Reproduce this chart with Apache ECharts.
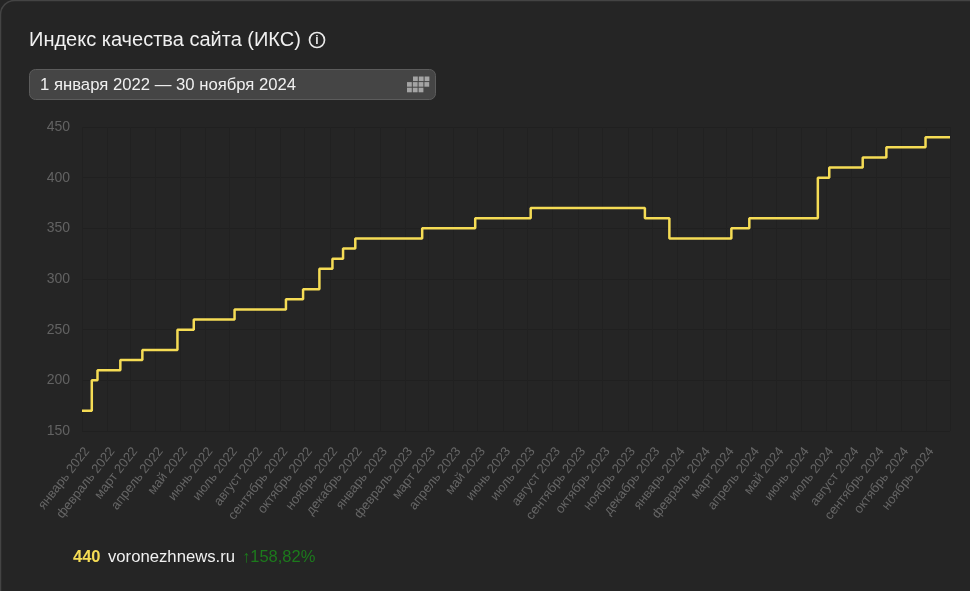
<!DOCTYPE html>
<html><head><meta charset="utf-8">
<style>html,body{margin:0;padding:0;background:#252525}#c{width:970px;height:591px}</style>
<script src="https://cdn.jsdelivr.net/npm/echarts@6/dist/echarts.min.js"></script>
</head><body><div id="c"></div>
<script>
const stepDates = ['2022-01-01','2022-01-13','2022-01-20','2022-02-17','2022-03-16','2022-04-28','2022-05-18','2022-07-07','2022-09-08','2022-09-29','2022-10-19','2022-11-04','2022-11-17','2022-12-02','2023-02-22','2023-04-28','2023-07-05','2023-11-22','2023-12-22','2024-03-07','2024-03-29','2024-06-21','2024-07-05','2024-08-15','2024-09-13','2024-10-31','2024-11-30'];
const stepValues = [170,200,210,220,230,250,260,270,280,290,310,320,330,340,350,360,370,360,340,350,360,400,410,420,430,440,440];
const monthNames = ['январь','февраль','март','апрель','май','июнь','июль','август','сентябрь','октябрь','ноябрь','декабрь'];
const yTicks = {min:150,max:450,interval:50};
const titleText = 'Индекс качества сайта (ИКС)';
const rangeText = '1 января 2022 — 30 ноября 2024';
const siteName = 'voronezhnews.ru', lastValue = '440', changeText = '↑158,82%';

const font = '"Liberation Sans", Arial, sans-serif';
const chart = echarts.init(document.getElementById('c'), null, {renderer:'canvas'});
const cells = [];
[[413,3],[407,4],[407,3]].forEach(([x0,n],r)=>{
  for (let c=0;c<n;c++) cells.push({type:'rect',shape:{x:x0+c*5.8,y:76.5+r*5.6,width:4.8,height:4.6},style:{fill:'#a4a4a4'},silent:true});
});
chart.setOption({
  backgroundColor:'#252525',
  animation:false,
  grid:{left:82,right:20,top:127,bottom:160,containLabel:false},
  xAxis:{type:'time',min:'2022-01-01',max:'2024-11-30',
    minInterval:27*864e5,maxInterval:32*864e5,
    axisLine:{show:false},axisTick:{show:false},
    splitLine:{show:true,lineStyle:{color:'#212121',width:1}},
    axisLabel:{rotate:52,color:'#666666',fontSize:13,fontFamily:font,margin:14,verticalAlign:'top',hideOverlap:false,showMinLabel:true,showMaxLabel:false,
      formatter:v=>{const d=new Date(v);return monthNames[d.getMonth()]+' '+d.getFullYear();}}},
  yAxis:{type:'value',min:yTicks.min,max:yTicks.max,interval:yTicks.interval,
    axisLine:{show:false},axisTick:{show:false},
    splitLine:{show:true,lineStyle:{color:'#202020',width:1}},
    axisLabel:{color:'#626262',fontSize:14,fontFamily:font,margin:12}},
  series:[{type:'line',step:'end',showSymbol:false,
    data:stepDates.map((d,i)=>[d,stepValues[i]]),
    lineStyle:{color:'#f5dc55',width:2.5},z:5}],
  graphic:[
    {type:'rect',shape:{x:0.5,y:0.5,width:1000,height:700,r:14},style:{fill:'none',stroke:'#444444',lineWidth:1.5},silent:true},
    {type:'text',x:29,y:40.5,style:{text:titleText,fill:'#f0f0f0',font:'20px '+font,verticalAlign:'middle'}},
    {type:'circle',shape:{cx:317,cy:40,r:7.5},style:{fill:'none',stroke:'#e8e8e8',lineWidth:1.7}},
    {type:'text',x:317,y:40.5,style:{text:'i',fill:'#e8e8e8',font:'bold 12px '+font,align:'center',verticalAlign:'middle'}},
    {type:'rect',shape:{x:29.5,y:69.5,width:406,height:30,r:6},style:{fill:'#454545',stroke:'#5c5c5c',lineWidth:1}},
    {type:'text',x:40,y:85.5,style:{text:rangeText,fill:'#f0f0f0',font:'16.7px '+font,verticalAlign:'middle'}},
    ...cells,
    {type:'text',x:73,y:557,style:{text:lastValue,fill:'#f5dc55',font:'bold 16.5px '+font,verticalAlign:'middle'}},
    {type:'text',x:108,y:557,style:{text:siteName,fill:'#f0f0f0',font:'16.7px '+font,verticalAlign:'middle'}},
    {type:'text',x:242,y:557,style:{text:changeText,fill:'#1c7a1c',font:'16.5px '+font,verticalAlign:'middle'}}
  ]
});
</script></body></html>
